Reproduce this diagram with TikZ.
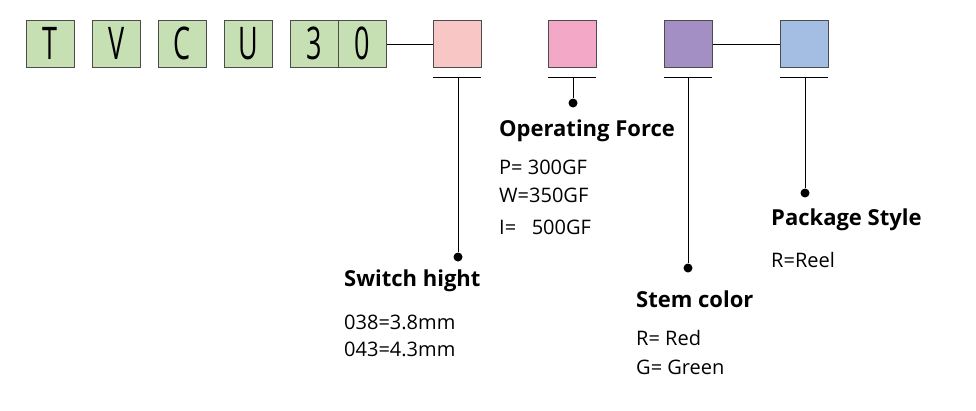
\documentclass[tikz,border=0pt]{standalone}
\usepackage{fontspec}
\setmainfont{Open Sans}
\begin{document}
\begin{tikzpicture}[x=1pt,y=-1pt,
  box/.style={draw=black!70,line width=0.8pt,minimum width=48pt,minimum height=47pt,inner sep=0pt,anchor=north west},
  ttl/.style={anchor=west,inner sep=0pt,font=\fontsize{22}{24}\selectfont\bfseries},
  txt/.style={anchor=west,inner sep=0pt,font=\fontsize{20}{22}\selectfont},
  dot/.style={circle,fill=black,inner sep=0pt,minimum size=9pt},
  ln/.style={line width=0.8pt}]
\useasboundingbox (0,0) rectangle (976,410);
\newcommand{\bl}[1]{\scalebox{0.6}[1]{\fontsize{45}{45}\selectfont #1}}
\definecolor{gr}{HTML}{C6E0B4}
\definecolor{c1}{HTML}{F8C6C4}
\definecolor{c2}{HTML}{F3A8C8}
\definecolor{c3}{HTML}{A48FC4}
\definecolor{c4}{HTML}{A3BDE3}
\node[box,fill=gr] (t) at (26,20) {\bl{T}};
\node[box,fill=gr] (v) at (92,20) {\bl{V}};
\node[box,fill=gr] (c) at (158,20) {\bl{C}};
\node[box,fill=gr] (u) at (224,20) {\bl{U}};
\node[box,fill=gr] (d3) at (290,20) {\bl{3}};
\node[box,fill=gr] (d0) at (338,20) {\bl{0}};
\node[box,fill=c1] (b1) at (433,20) {};
\node[box,fill=c2] (b2) at (548,20) {};
\node[box,fill=c3] (b3) at (664,20) {};
\node[box,fill=c4] (b4) at (780,20) {};
\draw[ln] (d0.east) -- (b1.west);
\draw[ln] (b3.east) -- (b4.west);
\foreach \n/\x in {u1/433,u2/548,u3/664,u4/780}{
  \coordinate (\n l) at (\x,77); \coordinate (\n r) at (\x+48,77);
  \draw[ln] (\n l) -- (\n r);}
\node[dot] (p1) at (458,257) {};
\node[dot] (p2) at (573,103) {};
\node[dot] (p3) at (688,268) {};
\node[dot] (p4) at (805,193) {};
\coordinate (m1) at (458,77); \coordinate (m2) at (573,77);
\coordinate (m3) at (688,77); \coordinate (m4) at (805,77);
\draw[ln] (m1) -- (p1); \draw[ln] (m2) -- (p2);
\draw[ln] (m3) -- (p3); \draw[ln] (m4) -- (p4);
\node[ttl] (h1) at (344,281) {Switch hight};
\node[txt] (h1a) at (344,322) {038=3.8mm};
\node[txt] (h1b) at (344,349) {043=4.3mm};
\node[ttl] (h2) at (499,131) {Operating Force};
\node[txt] (h2a) at (499,167) {P=\ 300GF};
\node[txt] (h2b) at (499,195) {W=350GF};
\node[txt] (h2c) at (499,227) {I=\ \ \ 500GF};
\node[ttl] (h3) at (636,299) {Stem color};
\node[txt] (h3a) at (636,338) {R=\ Red};
\node[txt] (h3b) at (636,367) {G=\ Green};
\node[ttl] (h4) at (771,220) {Package Style};
\node[txt] (h4a) at (771,260) {R=Reel};
\end{tikzpicture}
\end{document}
